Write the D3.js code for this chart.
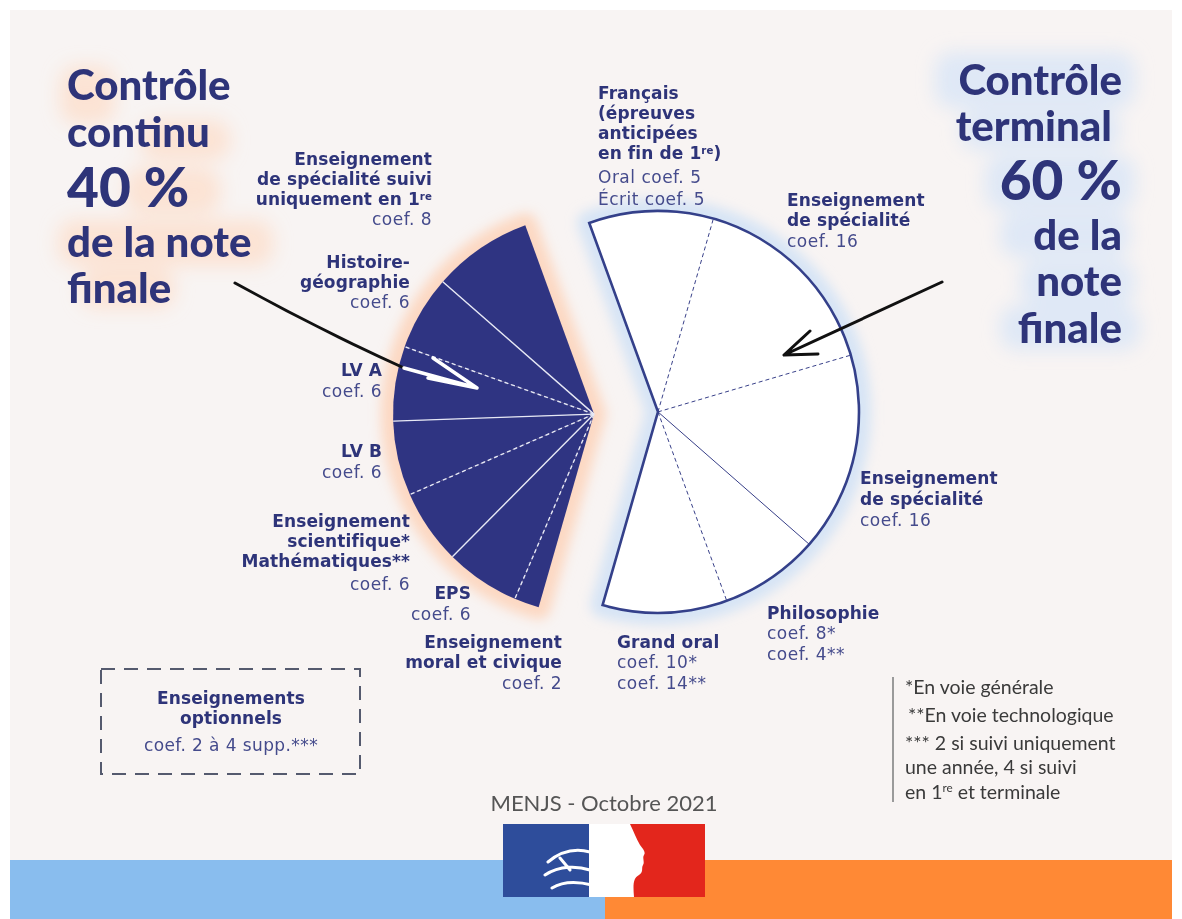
<!DOCTYPE html>
<html><head><meta charset="utf-8">
<script src="https://cdn.jsdelivr.net/npm/d3@7"></script>
<style>html,body{margin:0;padding:0;background:#fff;}svg{display:block;}</style>
</head><body><svg id="c" width="1182" height="919"></svg>
<script>
// ---------- DATA ----------
const leftCategories = ["Enseignement moral et civique","EPS","Enseignement scientifique / Mathématiques","LV B","LV A","Histoire-géographie","Enseignement de spécialité suivi uniquement en 1re"];
const leftCoefs = [2,6,6,6,6,6,8];
const rightCategories = ["Français (épreuves anticipées)","Enseignement de spécialité","Enseignement de spécialité","Philosophie","Grand oral"];
const rightCoefs = [10,16,16,8,10];
const leftTitle = ["Contrôle","continu","40 %","de la note","finale"];
const rightTitle = ["Contrôle","terminal","60 %","de la","note","finale"];
const notes = ["*En voie générale","**En voie technologique","*** 2 si suivi uniquement","une année, 4 si suivi","en 1|re| et terminale"];
const optionBox = ["Enseignements","optionnels","coef. 2 à 4 supp.***"];
const sourceText = "MENJS - Octobre 2021";

// ---------- LAYOUT ----------
const W=1182,H=919;
const NAVY="#2f3482", TXT="#2e3479", COEF="#454b8c";
const svg=d3.select("#c");
const defs=svg.append("defs");
defs.append("filter").attr("id","blur").attr("x","-30%").attr("y","-30%").attr("width","160%").attr("height","160%")
  .append("feGaussianBlur").attr("stdDeviation",6);
defs.append("filter").attr("id","blur2").attr("x","-30%").attr("y","-30%").attr("width","160%").attr("height","160%")
  .append("feGaussianBlur").attr("stdDeviation",9);

// background
svg.append("rect").attr("width",W).attr("height",H).attr("fill","#fff");
svg.append("rect").attr("x",10).attr("y",10).attr("width",W-20).attr("height",H-10).attr("fill","#f8f4f3");
svg.append("rect").attr("x",10).attr("y",860).attr("width",595).attr("height",59).attr("fill","#89bdee");
svg.append("rect").attr("x",605).attr("y",860).attr("width",W-10-605).attr("height",59).attr("fill","#ff8935");

// title highlights
const hl=svg.append("g").attr("filter","url(#blur2)");
[[60,66,55,58],[140,120,90,40],[125,168,95,46],[58,220,215,46],[80,268,95,40]].forEach(r=>
  hl.append("rect").attr("x",r[0]).attr("y",r[1]).attr("width",r[2]).attr("height",r[3]).attr("rx",18).attr("fill","#fcdfcc").attr("opacity",0.8));
[[935,52,200,56],[960,110,160,40],[985,155,150,55],[1000,212,130,45],[1020,260,115,45],[1000,305,140,45]].forEach(r=>
  hl.append("rect").attr("x",r[0]).attr("y",r[1]).attr("width",r[2]).attr("height",r[3]).attr("rx",18).attr("fill","#dbe7f6").attr("opacity",0.9));

// titles (one text element per block)
const tfont="Lato, 'Open Sans', sans-serif";
const leftTitleBase=[100,147,207,257,303], rightTitleBase=[95,141,200,250,296,343];
const TS=42, PS=55;
const tl=svg.append("text").attr("font-family",tfont).attr("font-weight",900).attr("fill",TXT);
leftTitle.forEach((t,i)=>tl.append("tspan").attr("x",67).attr("y",leftTitleBase[i]).attr("font-size",i===2?PS:TS).text(t));
const tr=svg.append("text").attr("font-family",tfont).attr("font-weight",900).attr("fill",TXT).attr("text-anchor","end");
rightTitle.forEach((t,i)=>tr.append("tspan").attr("x",i===1?1112:1122).attr("y",rightTitleBase[i]).attr("font-size",i===2?PS:TS).text(t));

// ---------- PIE ----------
const R=201, C=[626,413], OFFSET=32;
const deg=Math.PI/180, START=-164*deg;
const slices=leftCoefs.map((v,i)=>({side:"L",name:leftCategories[i],v,i}))
  .concat(rightCoefs.map((v,i)=>({side:"R",name:rightCategories[i],v,i})));
const pie=d3.pie().sort(null).value(d=>d.v).startAngle(START).endAngle(START+2*Math.PI);
const arcs=pie(slices);
const arc=d3.arc().innerRadius(0).outerRadius(R);
function group(side){
  const a=arcs.filter(d=>d.data.side===side);
  const s=a[0].startAngle,e=a[a.length-1].endAngle,m=(s+e)/2;
  const o=d3.pointRadial(m,OFFSET);
  return {a,s,e,cx:C[0]+o[0],cy:C[1]+o[1]};
}
const GL=group("L"),GR=group("R");

// glows
[[GL,"#fcd8c2"],[GR,"#d6e4f5"]].forEach(([g,col])=>{
  svg.append("path").attr("transform",`translate(${g.cx},${g.cy})`)
    .attr("d",arc({startAngle:g.s,endAngle:g.e})).attr("fill",col).attr("stroke",col)
    .attr("stroke-width",24).attr("stroke-linejoin","round").attr("filter","url(#blur)");
});

// left group
const gL=svg.append("g").attr("transform",`translate(${GL.cx},${GL.cy})`);
gL.selectAll("path.sl").data(GL.a).join("path").attr("class","sl").attr("d",arc).attr("fill",NAVY);
gL.selectAll("line.sep").data(GL.a.slice(1)).join("line").attr("class","sep")
  .attr("x1",0).attr("y1",0)
  .attr("x2",d=>d3.pointRadial(d.startAngle,R)[0]).attr("y2",d=>d3.pointRadial(d.startAngle,R)[1])
  .attr("stroke","#e6e8f5").attr("stroke-width",1.4)
  .attr("stroke-dasharray",(d,i)=>i%2===0?"4,3":null);

// right group
const gR=svg.append("g").attr("transform",`translate(${GR.cx},${GR.cy})`);
gR.selectAll("path.sl").data(GR.a).join("path").attr("class","sl").attr("d",arc).attr("fill","#fff");
gR.selectAll("line.sep").data(GR.a.slice(1)).join("line").attr("class","sep")
  .attr("x1",0).attr("y1",0)
  .attr("x2",d=>d3.pointRadial(d.startAngle,R)[0]).attr("y2",d=>d3.pointRadial(d.startAngle,R)[1])
  .attr("stroke","#3a4189").attr("stroke-width",1)
  .attr("stroke-dasharray",(d,i)=>i===2?null:"4,3");
gR.append("path").attr("d",arc({startAngle:GR.s,endAngle:GR.e}))
  .attr("fill","none").attr("stroke","#34408a").attr("stroke-width",2.6).attr("stroke-linejoin","miter");

// ---------- LABELS ----------
const lfont="'DejaVu Sans', Verdana, sans-serif";
const LS=17;
// each line: [text, bold?]; "|x|" marks superscript
const labelBlocks=[
  {x:432,y:165,a:"end",lh:[0,20,20,20],lines:[["Enseignement",1],["de spécialité suivi",1],["uniquement en 1|re|",1],["coef. 8",0]]},
  {x:410,y:268,a:"end",lh:[0,20,20],lines:[["Histoire-",1],["géographie",1],["coef. 6",0]]},
  {x:382,y:376,a:"end",lh:[0,21],lines:[["LV A",1],["coef. 6",0]]},
  {x:382,y:457,a:"end",lh:[0,21],lines:[["LV B",1],["coef. 6",0]]},
  {x:410,y:527,a:"end",lh:[0,20,20,23],lines:[["Enseignement",1],["scientifique*",1],["Mathématiques**",1],["coef. 6",0]]},
  {x:471,y:599,a:"end",lh:[0,21],lines:[["EPS",1],["coef. 6",0]]},
  {x:562,y:648,a:"end",lh:[0,20,21],lines:[["Enseignement",1],["moral et civique",1],["coef. 2",0]]},
  {x:598,y:99,a:"start",lh:[0,20,20,20,24,22],lines:[["Français",1],["(épreuves",1],["anticipées",1],["en fin de 1|re|)",1],["Oral coef. 5",0],["Écrit coef. 5",0]]},
  {x:787,y:206,a:"start",lh:[0,20,21],lines:[["Enseignement",1],["de spécialité",1],["coef. 16",0]]},
  {x:860,y:484,a:"start",lh:[0,21,21],lines:[["Enseignement",1],["de spécialité",1],["coef. 16",0]]},
  {x:767,y:619,a:"start",lh:[0,20,21],lines:[["Philosophie",1],["coef. 8*",0],["coef. 4**",0]]},
  {x:617,y:648,a:"start",lh:[0,20,21],lines:[["Grand oral",1],["coef. 10*",0],["coef. 14**",0]]}
];
function addParts(t,str,size){
  str.split("|").forEach((p,k)=>{
    if(!p) return;
    const ts=t.append("tspan").text(p);
    if(k%2===1) ts.attr("font-size",size*0.6).attr("baseline-shift","super");
  });
}
labelBlocks.forEach(b=>{
  const t=svg.append("text").attr("text-anchor",b.a).attr("font-family",lfont).attr("font-size",LS);
  b.lines.forEach((ln,i)=>{
    const line=t.append("tspan").attr("x",b.x).attr("dy",b.lh[i])
      .attr("font-weight",ln[1]?700:400).attr("fill",ln[1]?TXT:COEF)
      .attr("letter-spacing",ln[1]?0.1:0.5);
    if(i===0) line.attr("y",b.y);
    addParts(line,ln[0],LS);
  });
});

// arrows
svg.append("path").attr("d","M235,283 Q320,330 404,368").attr("fill","none").attr("stroke","#111").attr("stroke-width",3).attr("stroke-linecap","round");
svg.append("path").attr("d","M404,368 L477,388 M433,358 L477,388 L428,378").attr("fill","none").attr("stroke","#fff").attr("stroke-width",3.5).attr("stroke-linecap","round").attr("stroke-linejoin","round");
svg.append("path").attr("d","M942,282 L784,355 M810,331 L784,355 L818,354").attr("fill","none").attr("stroke","#111").attr("stroke-width",3).attr("stroke-linecap","round").attr("stroke-linejoin","round");

// optional box
svg.append("rect").attr("x",101).attr("y",669).attr("width",259).attr("height",105)
  .attr("fill","none").attr("stroke","#555a6e").attr("stroke-width",2).attr("stroke-dasharray","14,9");
const ob=svg.append("text").attr("text-anchor","middle").attr("font-family",lfont).attr("font-size",LS);
optionBox.forEach((t,i)=>ob.append("tspan").attr("x",231).attr("y",[704,724,751][i])
  .attr("font-weight",i<2?700:400).attr("fill",i<2?TXT:COEF).attr("letter-spacing",i<2?0.1:0.4).text(t));

// notes
svg.append("line").attr("x1",893).attr("x2",893).attr("y1",677).attr("y2",802).attr("stroke","#9a9a9a").attr("stroke-width",2);
const NS=19.5;
const nt=svg.append("text").attr("font-family","Lato, 'Open Sans', sans-serif").attr("font-size",NS).attr("fill","#3a3a3a");
notes.forEach((t,i)=>{
  const ln=nt.append("tspan").attr("x",i===1?908:905).attr("y",[694,722,750,774,799][i]);
  addParts(ln,t,NS);
});

// source
svg.append("text").attr("x",604).attr("y",811).attr("text-anchor","middle")
  .attr("font-family","Lato, 'Open Sans', sans-serif").attr("font-size",22).attr("fill","#555").text(sourceText);

// logo
const lg=svg.append("g");
lg.append("rect").attr("x",503).attr("y",824).attr("width",202).attr("height",73).attr("fill","#fff");
lg.append("rect").attr("x",503).attr("y",824).attr("width",86).attr("height",73).attr("fill","#2e4d9b");
lg.append("rect").attr("x",626).attr("y",824).attr("width",79).attr("height",73).attr("fill","#e3261c");
lg.append("path").attr("d","M589,824 L630,824 C634,832 636,838 640,845 C643,849 646,852 644,855 C642,858 645,862 643,865 C641,868 644,872 639,875 C633,878 633,885 634,897 L589,897 Z").attr("fill","#fff");
lg.append("path").attr("d","M548,862 C560,852 575,848 590,852 M545,875 C560,865 578,866 590,870 M552,888 C565,880 580,882 592,885 M560,858 L570,870").attr("fill","none").attr("stroke","#fff").attr("stroke-width",3).attr("stroke-linecap","round");
</script></body></html>
